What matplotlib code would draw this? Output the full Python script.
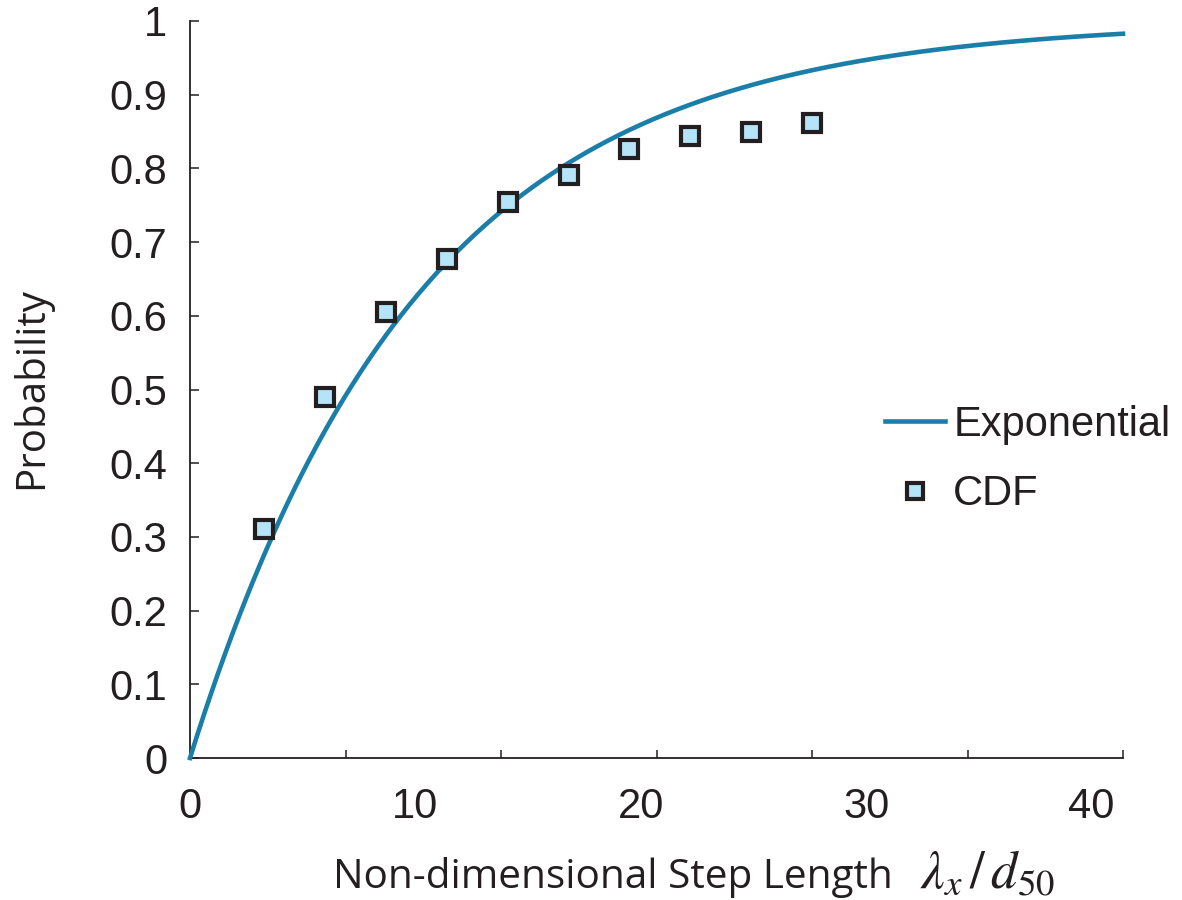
import numpy as np
import matplotlib.pyplot as plt

# values
step_len = [3.3, 6.0, 8.7, 11.4, 14.1, 16.8, 19.5, 22.2, 24.9, 27.6]
cdf_vals = [0.311, 0.490, 0.605, 0.677, 0.754, 0.791, 0.826, 0.844, 0.850, 0.862]
mean_step = 10.2   # mean of the fitted exponential
x_max = 41.4
x_ticklabels = [0, 10, 20, 30, 40]
y_ticks = [0, 0.1, 0.2, 0.3, 0.4, 0.5, 0.6, 0.7, 0.8, 0.9, 1]
y_ticklabels = ['0', '0.1', '0.2', '0.3', '0.4', '0.5', '0.6', '0.7', '0.8', '0.9', '1']

plt.rcParams['font.family'] = ['Liberation Sans', 'DejaVu Sans']
plt.rcParams['mathtext.fontset'] = 'stix'

W, H = 1182, 900
dark = '#231f20'
line_col = '#1a7ea8'

fig = plt.figure(figsize=(W / 100, H / 100), dpi=100)
ax = fig.add_axes([190 / W, 1 - 758 / H, 933 / W, 737 / H])

xs = np.linspace(0, x_max, 400)
ax.plot(xs, 1 - np.exp(-xs / mean_step), color=line_col, lw=3.3,
        clip_on=False, zorder=3, label='Exponential')
ax.plot(step_len, cdf_vals, 's', ms=12.5, mfc='#b5e3f7', mec=dark, mew=3,
        zorder=4, label='CDF')

ax.set_xlim(0, x_max)
ax.set_ylim(0, 1)
ax.spines[['top', 'right']].set_visible(False)
for s in ['left', 'bottom']:
    ax.spines[s].set_color(dark)
    ax.spines[s].set_linewidth(1.3)

# tick labels and tick marks do not line up in the original
ax.set_xticks(x_ticklabels)
ax.set_xticklabels([str(v) for v in x_ticklabels])
ax.set_xticks(np.linspace(0, x_max, 7)[1:], minor=True)
ax.tick_params(axis='x', which='major', length=0, pad=21, labelsize=30, labelcolor=dark)
ax.tick_params(axis='x', which='minor', direction='in', length=6, width=1.1, color=dark)
ax.set_yticks(y_ticks)
ax.set_yticklabels(y_ticklabels)
ax.tick_params(axis='y', direction='in', length=6.5, width=1.1, color=dark,
               pad=16.5, labelsize=30, labelcolor=dark)

ax.legend(loc='upper left', bbox_to_anchor=(885 / W, 1 - 405 / H),
          bbox_transform=fig.transFigure, frameon=False, borderpad=0,
          borderaxespad=0, handlelength=1.44, handletextpad=0.2,
          labelspacing=0.7, markerscale=0.95, fontsize=30, labelcolor=dark)

fig.text(333 / W, 1 - 888 / H, 'Non-dimensional Step Length', family='Open Sans',
         fontsize=29.2, color=dark, ha='left', va='baseline')
fig.text(920 / W, 1 - 888 / H, r'$\lambda_x\,/\,d_{50}$', fontsize=38, color=dark,
         ha='left', va='baseline')
fig.text(32 / W, 1 - 388 / H, 'Probability', family='Open Sans', fontsize=29,
         color=dark, rotation=90, ha='center', va='center')

fig.savefig('out.png', dpi=100)
